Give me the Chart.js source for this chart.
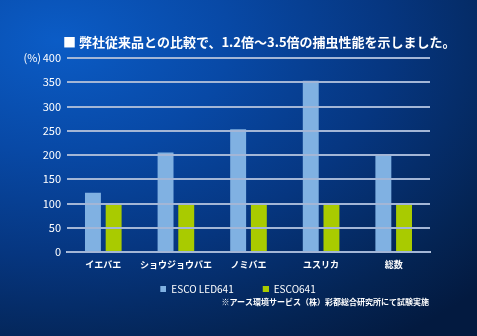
<!DOCTYPE html>
<html><head><meta charset="utf-8">
<script src="https://cdn.jsdelivr.net/npm/chart.js@4"></script>
<style>
html,body{margin:0;padding:0;width:477px;height:336px;overflow:hidden;}
body{background:radial-gradient(ellipse 120% 110% at 12% 12%, #0b5cc6 0%, #0849a6 30%, #063680 58%, #042454 85%, #031a40 100%);}
#wrap{position:relative;width:477px;height:336px;}
canvas{display:block;}
</style></head>
<body><div id="wrap"><canvas id="c" width="477" height="336"></canvas></div>
<script>
const categories = ['イエバエ', 'ショウジョウバエ', 'ノミバエ', 'ユスリカ', '総数'];
const seriesNames = ['ESCO LED641', 'ESCO641'];
const ledValues = [122, 205, 253, 353, 201];
const oldValues = [100, 100, 100, 100, 100];
const titleText = '■ 弊社従来品との比較で、1.2倍～3.5倍の捕虫性能を示しました。';
const noteText = '※アース環境サービス（株）彩都総合研究所にて試験実施';
const unitText = '(%)';

const JP = '"Noto Sans CJK JP", "Noto Sans", sans-serif';
const colors = ['#80b1e2', '#a9cb00'];

// legend marker: small square placed at the right edge of a wider slot
function marker(color) {
  const c = document.createElement('canvas');
  c.width = 25; c.height = 6;
  const g = c.getContext('2d');
  g.fillStyle = color;
  g.fillRect(19, 0, 6, 6);
  return c;
}
const markers = colors.map(marker);

const textPlugin = {
  id: 'texts',
  afterDraw(chart) {
    const ctx = chart.ctx;
    ctx.save();
    ctx.fillStyle = '#ffffff';
    ctx.textBaseline = 'middle';
    ctx.font = 'bold 13px ' + JP;
    ctx.textAlign = 'left';
    ctx.fillText(titleText, 63, 42);
    ctx.font = '11px ' + JP;
    ctx.textAlign = 'right';
    const y = chart.scales.y;
    ctx.fillText(unitText, 41, y.getPixelForValue(400));
    ctx.font = 'bold 8px ' + JP;
    ctx.fillText(noteText, 429, 302);
    ctx.restore();
  }
};

new Chart(document.getElementById('c'), {
  type: 'bar',
  data: {
    labels: categories,
    datasets: [
      {label: seriesNames[0], data: ledValues, backgroundColor: colors[0], pointStyle: markers[0]},
      {label: seriesNames[1], data: oldValues, backgroundColor: colors[1], pointStyle: markers[1]}
    ]
  },
  options: {
    responsive: false,
    animation: false,
    categoryPercentage: 0.57,
    barPercentage: 0.77,
    layout: {padding: {left: 27, right: 47, top: 58, bottom: 32}},
    plugins: {
      legend: {
        position: 'bottom',
        labels: {
          color: '#ffffff',
          usePointStyle: true,
          pointStyleWidth: 25,
          boxHeight: 6,
          padding: 10,
          font: {family: JP, size: 10}
        }
      },
      tooltip: {enabled: false}
    },
    scales: {
      x: {
        afterFit(s) { s.height = 22; },
        grid: {display: false, drawTicks: false},
        border: {display: true, color: '#b4c4de', width: 2, z: 1},
        ticks: {color: '#ffffff', padding: 7, maxRotation: 0, minRotation: 0, autoSkip: false,
                font: {family: JP, size: 9, weight: 'bold'}}
      },
      y: {
        min: 0, max: 400,
        afterFit(s) { s.width = 40; },
        grid: {color: '#a3b6d6', lineWidth: 2, drawTicks: false, z: 1},
        border: {display: false},
        ticks: {stepSize: 50, color: '#ffffff', padding: 6, font: {family: JP, size: 11}}
      }
    }
  },
  plugins: [textPlugin]
});
</script></body></html>
